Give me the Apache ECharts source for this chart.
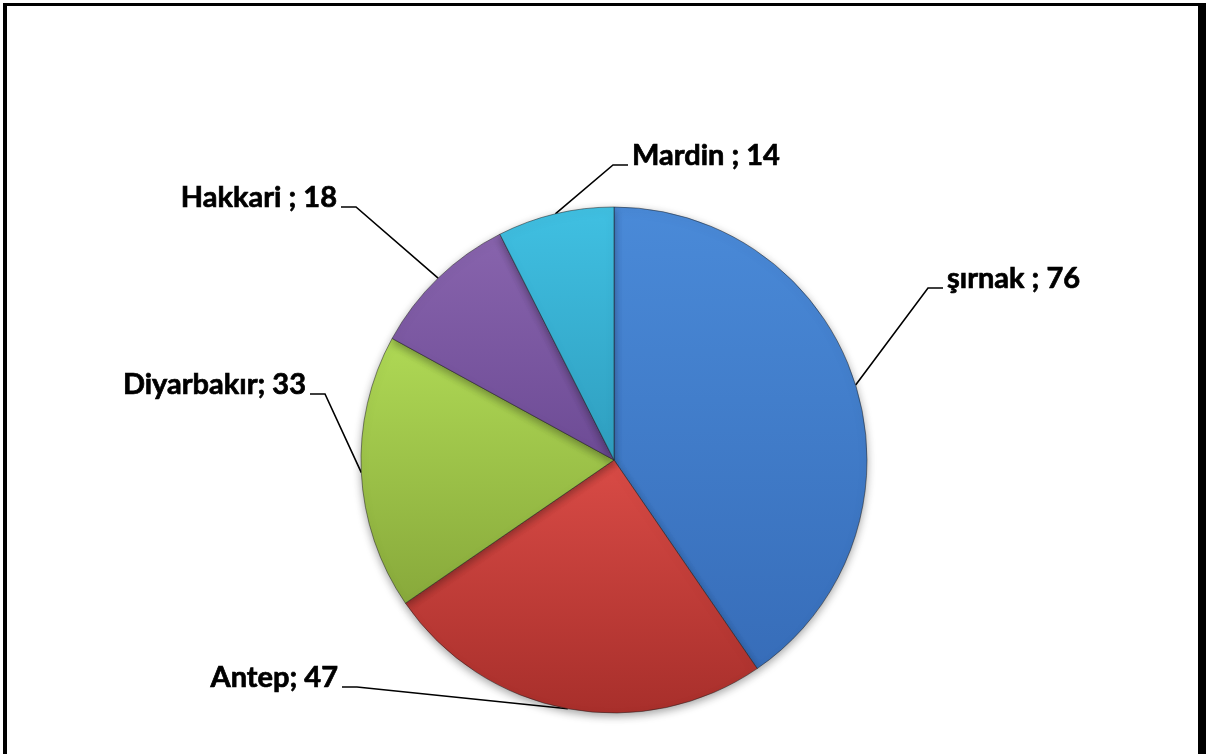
<!DOCTYPE html>
<html>
<head>
<meta charset="utf-8">
<script src="https://cdn.jsdelivr.net/npm/echarts@6/dist/echarts.min.js"></script>
<style>
  html, body { margin: 0; padding: 0; background: #fff; }
  #pieChart { width: 1206px; height: 754px; }
</style>
</head>
<body>
<div id="pieChart"></div>
<script>
// chart values
var cities = ['şırnak', 'Antep', 'Diyarbakır', 'Hakkari', 'Mardin']
var counts = [76, 47, 33, 18, 14]
var labelTexts = ['şırnak ; 76', 'Antep; 47', 'Diyarbakır; 33', 'Hakkari ; 18', 'Mardin ; 14']

// slice colours, light (top) -> dark (bottom)
var sliceColors = [
  ['#4a8ad8', '#376db9'],
  ['#d94b46', '#a82f2b'],
  ['#afd955', '#88a93b'],
  ['#8864ad', '#6d4b95'],
  ['#40c0e2', '#2f9ebf']
]
// where each label sits: [edge x, middle y, side]
var labelSpots = [
  [947, 279, 'left'],
  [338, 678, 'right'],
  [306, 385, 'right'],
  [337, 198, 'right'],
  [632, 156, 'left']
]

var pieData = cities.map(function (name, i) {
  return {
    name: name,
    value: counts[i],
    itemStyle: {
      color: new echarts.graphic.LinearGradient(0, 0, 0, 1, [
        { offset: 0, color: sliceColors[i][0] },
        { offset: 1, color: sliceColors[i][1] }
      ])
    }
  }
})

var chart = echarts.init(document.getElementById('pieChart'))
var option = {
  backgroundColor: '#ffffff',
  animation: false,
  graphic: [
    { type: 'rect', shape: { x: 3, y: 3, width: 4, height: 760 }, style: { fill: '#000' } },
    { type: 'rect', shape: { x: 3, y: 3, width: 1200, height: 3 }, style: { fill: '#000' } },
    { type: 'rect', shape: { x: 1198, y: 3, width: 8, height: 760 }, style: { fill: '#000' } }
  ],
  series: [{
    type: 'pie',
    center: [614, 460],
    radius: 253,
    startAngle: 90,
    clockwise: true,
    data: pieData,
    itemStyle: {
      borderColor: 'rgba(30,30,30,0.5)',
      borderWidth: 1,
      shadowBlur: 8,
      shadowColor: 'rgba(0,0,0,0.35)',
      shadowOffsetY: 3
    },
    label: {
      show: true,
      formatter: function (p) { return labelTexts[p.dataIndex] },
      fontFamily: 'Lato',
      fontWeight: 'bold',
      fontSize: 29,
      color: '#000',
      textBorderColor: '#000',
      textBorderWidth: 0.7
    },
    labelLine: {
      show: true,
      length: 20,
      length2: 15,
      lineStyle: { color: '#000', width: 1.6 }
    },
    labelLayout: function (params) {
      var spot = labelSpots[params.dataIndex]
      var start = params.labelLinePoints[0]
      var baseY = spot[1] + 9
      var tipX = spot[2] === 'left' ? spot[0] - 4 : spot[0] + 4
      var bendX = spot[2] === 'left' ? tipX - 15 : tipX + 15
      return {
        x: spot[0],
        y: spot[1],
        align: spot[2],
        verticalAlign: 'middle',
        labelLinePoints: [[start[0], start[1]], [bendX, baseY], [tipX, baseY]]
      }
    }
  }]
}
chart.setOption(option)
</script>
</body>
</html>
